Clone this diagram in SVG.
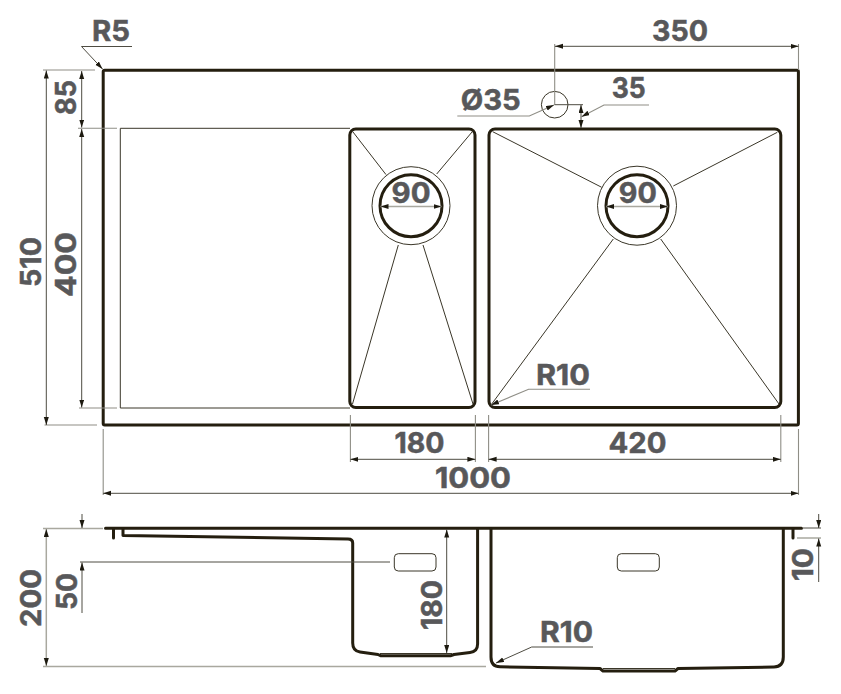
<svg xmlns="http://www.w3.org/2000/svg" width="841" height="694" viewBox="0 0 841 694">
<style>
.k{fill:none;stroke:#241e0f;stroke-width:3;stroke-linejoin:round;stroke-linecap:round}
.t{fill:none;stroke:#3a3628;stroke-width:1}
.m{fill:none;stroke:#4e4c42;stroke-width:1}
.e{fill:none;stroke:#8f8e86;stroke-width:1.1}
.g{fill:none;stroke:#a9a89f;stroke-width:1.5}
.a{marker-end:url(#ar)}
.b{marker-start:url(#ar);marker-end:url(#ar)}
text{font-family:Inter,"Liberation Sans",sans-serif;font-weight:700;font-size:28.5px;fill:#58585a;text-anchor:middle;stroke:#58585a;stroke-width:.5}
</style>
<defs>
<marker id="ar" markerUnits="userSpaceOnUse" markerWidth="9" markerHeight="6" refX="8" refY="2.5" orient="auto-start-reverse"><path d="M0 0L8 2.5L0 5z" fill="#1d1a10"/></marker>
</defs>
<rect width="841" height="694" fill="#fff"/>
<g id="top-outline"><rect class="k" x="103.2" y="70.3" width="695.2" height="354.7" rx="1.5"/></g>
<g id="drainboard"><path class="t" d="M350 128.3H120.3V408H350"/></g>
<g id="left-bowl">
<rect class="k" x="349.8" y="129" width="125.2" height="278.5" rx="6"/>
<path class="t" d="M353 132L386 174.6M472 132L436.7 174M352.5 404L398.3 245M473 404L423 245"/>
<circle class="t" cx="411" cy="205.7" r="39"/>
<circle class="k" cx="411" cy="205.7" r="31"/>
</g>
<g id="right-bowl">
<rect class="k" x="489" y="129" width="291.8" height="278.5" rx="6"/>
<path class="t" d="M492.7 131.7L601.7 187.3M777.3 132.3L673.3 186M491 405L613.3 239M779 404L660.7 239"/>
<circle class="t" cx="637" cy="205.7" r="39.5"/>
<circle class="k" cx="637" cy="205.7" r="31"/>
</g>
<g id="tap-hole"><circle class="t" cx="554.7" cy="104.7" r="13.3"/></g>
<g id="side-view">
<path class="k" d="M105.5 528.2H801.5M113.5 529V538M123 529V535.5L348 539Q352.7 539 352.7 543V643Q352.7 651 360 652L378 654.5L380.5 655.7H451L454 654.5L470 652.5Q477.6 651.5 477.6 644V529"/>
<path class="k" d="M491 529V657Q491 666.7 500 666.8L600 668.5L603 671H675L678 668.5L774 667Q783.3 666.7 783.3 657V529M793 529V538"/>
<path class="t" d="M380 653.5H452M603 668.5H675"/>
<rect class="t" x="394.3" y="553.7" width="41.7" height="17.3" rx="4"/>
<rect class="t" x="617.3" y="553.7" width="42" height="17.3" rx="4"/>
</g>
<g id="connectors">
<path class="m a" d="M132 46.5H81.5L102.5 69"/>
<path class="e" d="M43 70H95M44.5 425H97M78 128.3H117M79 408H117M554.7 44V105M798.5 44V70M350.4 415V462M475.4 415V462M488.6 415V462M780.8 415V462M103.2 429V495M798.5 429V495"/>
<path class="m b" d="M46.3 70.5V425"/>
<path class="m b" d="M81.7 71V127.5"/>
<path class="m b" d="M81.7 129V407.5"/>
<path class="m b" d="M555 46.3H798.5"/>
<path class="m b" d="M350.4 459.3H475.4"/>
<path class="m b" d="M488.6 459.3H780.8"/>
<path class="m b" d="M103.2 493.3H798.5"/>
<path class="g b" d="M380.5 206.5H441.5"/>
<path class="g b" d="M606 206.5H668"/>
<path class="m" d="M554.7 104.7H583"/>
<path class="m b" d="M581 105V128"/>
<path class="e a" d="M457.3 116H529.3L554 105"/>
<path class="e a" d="M649 105H604L581.5 116.7"/>
<path class="e a" d="M590 389.3H528.6L491 405"/>
<path class="g" d="M43 528.5H103M43 666.5H486"/>
<path class="m" d="M80 562H390M803 528H821"/>
<path class="g" d="M797 538H821"/>
<path class="g b" d="M46.3 529V666"/>
<path class="m a" d="M82 514V528"/>
<path class="m a" d="M82 613V562.5"/>
<path class="m b" d="M446.7 529.5V653"/>
<path class="m a" d="M818.7 514V528"/>
<path class="m a" d="M818.7 582V538.5"/>
<path class="m a" d="M593 647H531.7L496 663"/>
</g>
<g id="labels">
<text x="111" y="41" textLength="38" lengthAdjust="spacingAndGlyphs">R5</text>
<text x="680" y="41" textLength="56" lengthAdjust="spacingAndGlyphs">350</text>
<text x="490.7" y="110" textLength="60" lengthAdjust="spacingAndGlyphs">Ø35</text>
<text x="628.7" y="98.3" textLength="34" lengthAdjust="spacingAndGlyphs">35</text>
<text x="411" y="203" textLength="39" lengthAdjust="spacingAndGlyphs">90</text>
<text x="637.8" y="202.5" textLength="38" lengthAdjust="spacingAndGlyphs">90</text>
<text x="563" y="384.5" textLength="54" lengthAdjust="spacingAndGlyphs">R10</text>
<text x="419.5" y="453" textLength="50" lengthAdjust="spacingAndGlyphs">180</text>
<text x="637.5" y="453" textLength="58" lengthAdjust="spacingAndGlyphs">420</text>
<text x="473" y="487.7" textLength="76" lengthAdjust="spacingAndGlyphs">1000</text>
<text x="566.5" y="641.7" textLength="53" lengthAdjust="spacingAndGlyphs">R10</text>
<text transform="translate(76 97.5) rotate(-90)" textLength="35" lengthAdjust="spacingAndGlyphs">85</text>
<text transform="translate(41 262) rotate(-90)" textLength="50" lengthAdjust="spacingAndGlyphs">510</text>
<text transform="translate(76 264.5) rotate(-90)" textLength="65" lengthAdjust="spacingAndGlyphs">400</text>
<text transform="translate(41 598) rotate(-90)" textLength="58" lengthAdjust="spacingAndGlyphs">200</text>
<text transform="translate(76.5 591.5) rotate(-90)" textLength="37" lengthAdjust="spacingAndGlyphs">50</text>
<text transform="translate(441.7 605) rotate(-90)" textLength="50" lengthAdjust="spacingAndGlyphs">180</text>
<text transform="translate(813.3 564.5) rotate(-90)" textLength="33" lengthAdjust="spacingAndGlyphs">10</text>
</g>
</svg>
